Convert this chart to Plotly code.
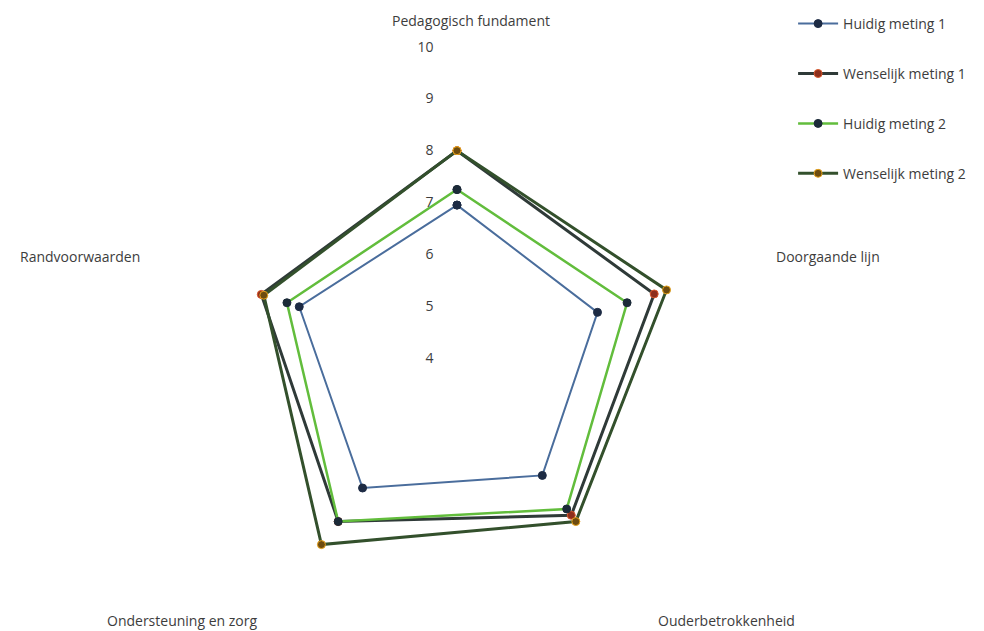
import plotly.graph_objects as go

# categories, clockwise starting at the top
categorieen = ['Pedagogisch fundament', 'Doorgaande lijn', 'Ouderbetrokkenheid',
               'Ondersteuning en zorg', 'Randvoorwaarden']

huidig_1 = [6.95, 6.85, 6.8, 7.1, 7.2]
wenselijk_1 = [8.0, 8.0, 7.75, 7.9, 7.97]
huidig_2 = [7.25, 7.45, 7.6, 7.9, 7.45]
wenselijk_2 = [8.0, 8.25, 7.9, 8.45, 7.92]

radial_ticks = [4, 5, 6, 7, 8, 9, 10]

series = [
    ('Huidig meting 1', huidig_1, '#4a6d9c', 2, '#1d2b44', '#1d2b44'),
    ('Wenselijk meting 1', wenselijk_1, '#2f3a38', 3, '#8e2f1c', '#d9582c'),
    ('Huidig meting 2', huidig_2, '#62bd3c', 2.5, '#1b2a38', '#1b2a38'),
    ('Wenselijk meting 2', wenselijk_2, '#33502c', 3, '#6e4c10', '#e6a21c'),
]

fig = go.Figure()
for naam, waarden, kleur, breedte, mkleur, mrand in series:
    # close the pentagon
    fig.add_trace(go.Scatterpolar(
        r=waarden + waarden[:1],
        theta=categorieen + categorieen[:1],
        name=naam,
        legendgroup=naam,
        mode='lines+markers',
        line=dict(color=kleur, width=breedte),
        marker=dict(color=mkleur, size=8, line=dict(color=mrand, width=1)),
    ))

# category labels placed like the Excel chart, well outside the pentagon
label_pos = [(0.4744, 1.0433), (0.8402, 0.6635), (0.7357, 0.0785), (0.1783, 0.0785), (0.0738, 0.6635)]
for tekst, (lx, ly) in zip(categorieen, label_pos):
    fig.add_annotation(x=lx, y=ly, xref='paper', yref='paper', text=tekst,
                       showarrow=False, xanchor='center', yanchor='middle',
                       font=dict(size=14, color='#3d3d3d', family='Open Sans'))

# the pentagon runs past the bottom of the window, as in the original
fig.update_layout(
    width=976,
    height=672,
    margin=dict(l=0, r=0, t=37, b=11),
    paper_bgcolor='white',
    plot_bgcolor='white',
    font=dict(family='Open Sans', size=14, color='#3d3d3d'),
    polar=dict(
        domain=dict(x=[0.1404, 0.7797], y=[0, 1]),
        bgcolor='white',
        angularaxis=dict(rotation=90, direction='clockwise', showline=False,
                         showgrid=False, showticklabels=False, ticks=''),
        radialaxis=dict(range=[4, 10], tickvals=radial_ticks, angle=90, tickangle=90,
                        side='counterclockwise', showline=False, showgrid=False,
                        ticks='outside', ticklen=18, tickcolor='rgba(0,0,0,0)',
                        tickfont=dict(size=14, color='#3d3d3d')),
    ),
    legend=dict(x=0.8044, y=1.0635, xanchor='left', yanchor='top',
                traceorder='grouped', tracegroupgap=28.7, itemwidth=40,
                font=dict(size=14, color='#3d3d3d'), bgcolor='rgba(0,0,0,0)'),
)

fig.write_html("out.html")
